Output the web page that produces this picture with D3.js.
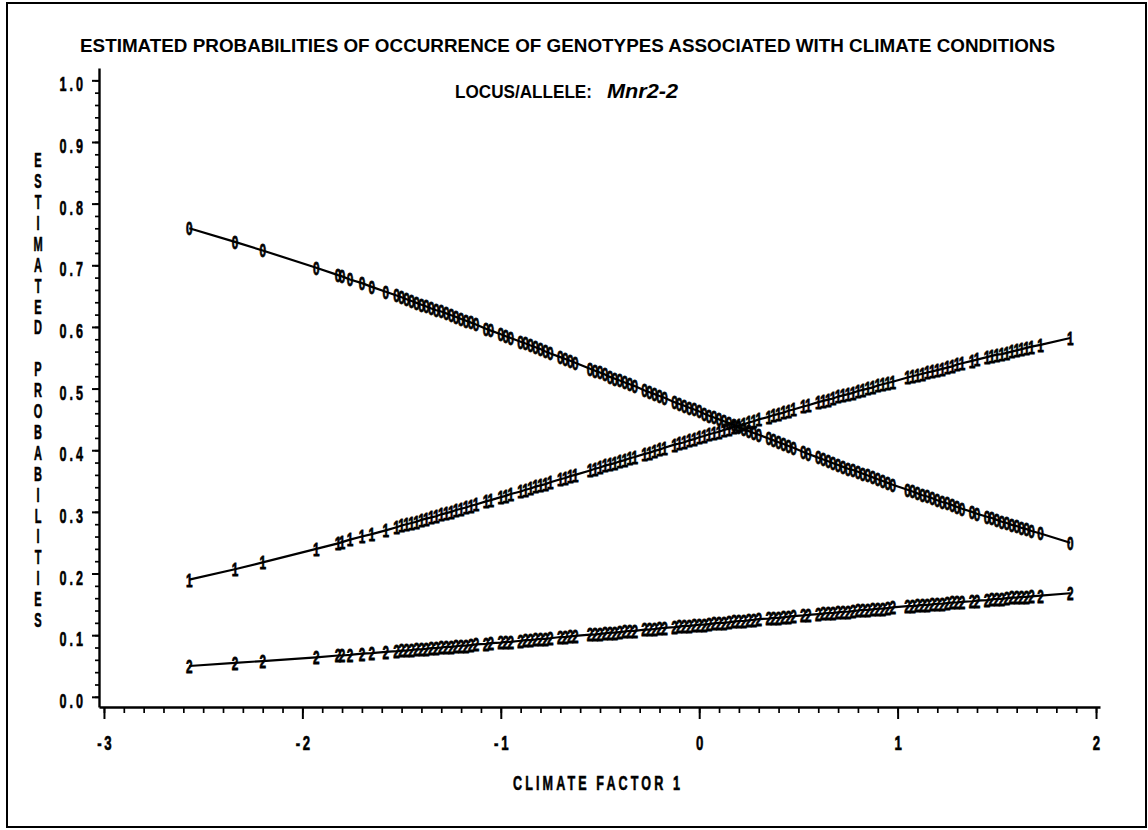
<!DOCTYPE html>
<html><head><meta charset="utf-8">
<script src="https://cdn.jsdelivr.net/npm/d3@7"></script>
<style>html,body{margin:0;padding:0;background:#fff;} svg{display:block}</style>
</head><body>
<svg id="chart" width="1148" height="830"></svg>
<script>
// ---- data ----
const climate = [
  -2.57,-2.34,-2.20,-1.93,-1.82,-1.80,-1.76,-1.70,-1.65,-1.58,-1.525,-1.50,
  -1.475,-1.45,-1.425,-1.4,-1.375,-1.35,-1.325,-1.3,-1.275,-1.25,-1.225,-1.2,-1.175,-1.15,-1.125,
  -1.075,-1.05,-1.0,-0.975,-0.95,-0.9,-0.875,-0.85,-0.825,-0.8,-0.775,-0.75,
  -0.7,-0.675,-0.65,-0.625,-0.55,-0.525,-0.5,-0.475,-0.45,-0.425,-0.4,-0.375,-0.35,-0.325,
  -0.275,-0.25,-0.225,-0.2,-0.175,-0.125,-0.1,-0.075,-0.05,-0.025,0,
  0.025,0.05,0.075,0.1,0.125,0.15,0.175,0.2,0.225,0.25,0.275,0.3,0.35,0.375,0.4,0.425,0.45,0.475,
  0.525,0.55,0.6,0.625,0.65,0.675,0.7,0.725,0.75,0.775,0.8,0.825,0.85,0.875,0.9,0.925,0.95,0.975,
  1.05,1.075,1.1,1.125,1.15,1.175,1.2,1.225,1.25,1.275,1.3,1.325,1.375,1.4,1.45,1.475,1.5,1.525,1.55,1.575,1.6,1.625,1.65,1.675,1.72,1.87
];
const prob0 = [
  .760,.738,.724,.696,.684,.682,.677,.671,.665,.657,.651,.648,
  .645,.642,.639,.636,.633,.630,.627,.625,.622,.619,.616,.613,.610,.607,.604,
  .597,.594,.588,.585,.582,.576,.573,.570,.567,.564,.560,.557,
  .551,.548,.545,.542,.532,.529,.526,.523,.519,.516,.513,.510,.507,.504,
  .497,.494,.491,.488,.485,.478,.475,.472,.469,.466,.463,
  .459,.456,.453,.450,.447,.444,.441,.437,.434,.431,.428,.425,.419,.416,.413,.410,.407,.404,
  .397,.394,.388,.385,.382,.379,.376,.373,.370,.368,.365,.362,.359,.356,.353,.350,.347,.344,
  .336,.333,.330,.327,.325,.322,.319,.316,.314,.311,.308,.305,.300,.297,.292,.290,.287,.284,.282,.279,.277,.274,.272,.269,.265,.250
];
const prob1 = [
  .190,.207,.218,.240,.249,.251,.255,.260,.264,.270,.275,.278,
  .280,.282,.284,.287,.289,.291,.293,.296,.298,.300,.303,.305,.307,.310,.312,
  .317,.319,.324,.326,.329,.333,.336,.338,.341,.343,.345,.348,
  .353,.355,.358,.360,.367,.370,.372,.375,.377,.379,.382,.384,.387,.389,
  .394,.396,.399,.401,.404,.409,.411,.413,.416,.418,.421,
  .423,.426,.428,.430,.433,.435,.438,.440,.442,.445,.447,.450,.454,.457,.459,.461,.464,.466,
  .471,.473,.478,.480,.482,.484,.487,.489,.491,.493,.496,.498,.500,.502,.505,.507,.509,.511,
  .518,.520,.522,.524,.526,.528,.530,.532,.534,.536,.539,.541,.545,.547,.551,.553,.555,.556,.558,.560,.562,.564,.566,.568,.571,.582
];
const prob2 = [
  .050,.055,.058,.064,.067,.067,.068,.070,.071,.073,.074,.075,
  .075,.076,.077,.077,.078,.079,.079,.080,.081,.081,.082,.083,.083,.084,.085,
  .086,.087,.088,.089,.089,.091,.092,.092,.093,.094,.094,.095,
  .097,.097,.098,.099,.101,.101,.102,.103,.104,.104,.105,.106,.107,.107,
  .109,.109,.110,.111,.112,.113,.114,.115,.115,.116,.117,
  .117,.118,.119,.120,.120,.121,.122,.123,.123,.124,.125,.126,.127,.128,.128,.129,.130,.131,
  .132,.133,.134,.135,.136,.136,.137,.138,.138,.139,.140,.141,.141,.142,.143,.143,.144,.145,
  .147,.147,.148,.149,.149,.150,.151,.151,.152,.153,.153,.154,.155,.156,.157,.158,.159,.159,.160,.161,.161,.162,.162,.163,.164,.168
];
const seriesSymbols = ["0", "1", "2"];
const xTicks = [-3, -2, -1, 0, 1, 2];
const xTickLabels = ["-3", "-2", "-1", "0", "1", "2"];
const yTicks = [0.0, 0.1, 0.2, 0.3, 0.4, 0.5, 0.6, 0.7, 0.8, 0.9, 1.0];
const yTickLabels = ["0.0","0.1","0.2","0.3","0.4","0.5","0.6","0.7","0.8","0.9","1.0"];
const titleText = "ESTIMATED PROBABILITIES OF OCCURRENCE OF GENOTYPES ASSOCIATED WITH CLIMATE CONDITIONS";
const subtitleLead = "LOCUS/ALLELE:";
const subtitleLocus = "Mnr2-2";
const yTitle = "ESTIMATED PROBABILITIES";
const xTitle = "CLIMATE FACTOR 1";

// ---- drawing ----
const svg = d3.select("#chart");
const SANS = "'Liberation Sans', Arial, Helvetica, sans-serif";
svg.append("rect").attr("width", 1148).attr("height", 830).attr("fill", "#fff");
svg.append("rect").attr("x", 7).attr("y", 3).attr("width", 1139).attr("height", 824)
  .attr("fill", "none").attr("stroke", "#000").attr("stroke-width", 2);

const x = d3.scaleLinear().domain([-3.025, 2.02]).range([99, 1100]);
const y = d3.scaleLinear().domain([-0.0165, 1.02]).range([707, 68]);

// titles
svg.append("text").attr("x", 80).attr("y", 52).text(titleText)
  .attr("font-family", SANS).attr("font-weight", "bold").attr("font-size", 18.5)
  .attr("textLength", 975).attr("lengthAdjust", "spacingAndGlyphs");
svg.append("text").attr("x", 455).attr("y", 98).text(subtitleLead)
  .attr("font-family", SANS).attr("font-weight", "bold").attr("font-size", 17.5)
  .attr("textLength", 137).attr("lengthAdjust", "spacingAndGlyphs");
svg.append("text").attr("x", 607).attr("y", 98).text(subtitleLocus)
  .attr("font-family", SANS).attr("font-weight", "bold").attr("font-style", "italic").attr("font-size", 21)
  .attr("textLength", 71).attr("lengthAdjust", "spacingAndGlyphs");

// x axis: minor + major
const xMinor = d3.ticks(-3, 2, 50);
svg.append("g").attr("transform", "translate(0,707)")
  .call(d3.axisBottom(x).tickValues(xMinor).tickSize(6).tickFormat(""))
  .call(g => g.select(".domain").remove())
  .call(g => g.selectAll("line").attr("stroke-width", 1.7));
const gx = svg.append("g").attr("transform", "translate(0,707)")
  .call(d3.axisBottom(x).tickValues(xTicks).tickSize(12).tickSizeOuter(0)
    .tickFormat((d, i) => xTickLabels[i]));
gx.select(".domain").attr("stroke-width", 2.4);
gx.selectAll("line").attr("stroke-width", 2);
gx.selectAll("text")
  .attr("font-family", SANS).attr("font-weight", "bold").attr("font-size", 20)
  .attr("letter-spacing", 4).attr("fill", "#000")
  .attr("stroke", "#000").attr("stroke-width", 0.6)
  .attr("y", 43).attr("dy", 0).attr("x", 2)
  .attr("transform", "scale(0.66,1)")
  .attr("text-anchor", "middle");

// y axis: minor + major
const yMinor = d3.ticks(0, 1, 50);
svg.append("g").attr("transform", "translate(99,0)")
  .call(d3.axisLeft(y).tickValues(yMinor).tickSize(4).tickFormat(""))
  .call(g => g.select(".domain").remove())
  .call(g => g.selectAll("line").attr("stroke-width", 1.7));
const gy = svg.append("g").attr("transform", "translate(99,0)")
  .call(d3.axisLeft(y).tickValues(yTicks).tickSize(7).tickSizeOuter(0)
    .tickFormat((d, i) => yTickLabels[i]));
gy.select(".domain").attr("stroke-width", 2.4);
gy.selectAll("line").attr("stroke-width", 2);
gy.selectAll("text")
  .attr("font-family", SANS).attr("font-weight", "bold").attr("font-size", 21)
  .attr("letter-spacing", 5).attr("fill", "#000")
  .attr("stroke", "#000").attr("stroke-width", 0.6)
  .attr("x", (-16 + 3) / 0.6).attr("y", 3).attr("dy", "0.36em")
  .attr("transform", "scale(0.6,1)");

// y title, stacked letters
const yLetters = yTitle.split("");
svg.append("g").selectAll("g").data(yLetters).join("g")
  .attr("transform", (c, i) => `translate(38,${160 + i * 20.9})`)
  .append("text").text(c => c)
  .attr("text-anchor", "middle").attr("dy", "0.36em")
  .attr("font-family", SANS).attr("font-weight", "bold").attr("font-size", 20)
  .attr("stroke", "#000").attr("stroke-width", 0.6)
  .attr("transform", "scale(0.55,1)");

// x title
svg.append("g").attr("transform", "translate(596.5,790)")
  .append("text").text(xTitle)
  .attr("text-anchor", "middle")
  .attr("font-family", SANS).attr("font-weight", "bold").attr("font-size", 21)
  .attr("stroke", "#000").attr("stroke-width", 0.6)
  .attr("textLength", 167 / 0.6).attr("lengthAdjust", "spacing")
  .attr("transform", "scale(0.6,1)");

// series
const series = [prob0, prob1, prob2];
const idx = climate.map((d, i) => i);
const line = d3.line().x(i => x(climate[i]));
series.forEach((vals, s) => {
  svg.append("path")
    .attr("d", line.y(i => y(vals[i]))(idx))
    .attr("fill", "none").attr("stroke", "#000").attr("stroke-width", 2.2);
});
series.forEach((vals, s) => {
  svg.append("g").selectAll("g").data(idx).join("g")
    .attr("transform", i => `translate(${x(climate[i])},${y(vals[i])})`)
    .append("text").text(seriesSymbols[s])
    .attr("text-anchor", "middle").attr("dy", "0.36em")
    .attr("font-family", SANS).attr("font-weight", "bold").attr("font-size", 19)
    .attr("stroke", "#000").attr("stroke-width", 0.8)
    .attr("transform", "scale(0.62,1)");
});
</script>
</body></html>
